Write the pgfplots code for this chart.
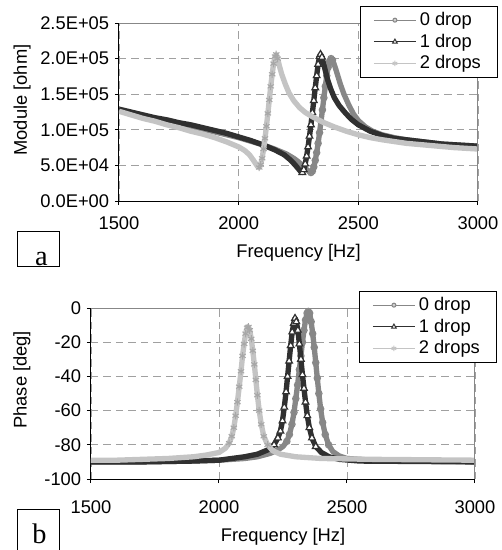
\documentclass[border=0pt]{standalone}
\usepackage{fontspec}
\setmainfont{Liberation Sans}
\newfontfamily\tnr{Liberation Serif}
\usepackage{pgfplots}
\usepackage{pgfplotstable}
\pgfplotsset{compat=1.18}

\definecolor{czero}{HTML}{878787}
\definecolor{cone}{HTML}{303030}
\definecolor{ctwo}{HTML}{C4C4C4}
\definecolor{gridc}{HTML}{A0A0A0}

% module (x 1e5 ohm)
\pgfplotstableread{
f m
1500 1.28
1550 1.24
1600 1.20
1650 1.16
1700 1.12
1750 1.09
1800 1.05
1850 1.01
1900 0.97
1950 0.93
2000 0.89
2050 0.84
2100 0.79
2150 0.73
2200 0.66
2230 0.60
2250 0.55
2270 0.49
2285 0.44
2295 0.41
2302 0.40
2308 0.42
2314 0.48
2320 0.57
2326 0.68
2332 0.81
2338 0.96
2344 1.12
2350 1.28
2356 1.45
2362 1.61
2368 1.76
2374 1.88
2380 1.96
2386 2.00
2392 1.98
2398 1.93
2405 1.86
2415 1.75
2425 1.64
2440 1.50
2460 1.35
2480 1.22
2500 1.13
2530 1.04
2560 0.98
2600 0.93
2650 0.89
2700 0.86
2750 0.84
2800 0.82
2850 0.80
2900 0.79
2950 0.78
3000 0.77
}\modzero
\pgfplotstableread{
f m
1500 1.29
1550 1.25
1600 1.21
1650 1.17
1700 1.14
1750 1.10
1800 1.07
1850 1.03
1900 0.99
1950 0.95
2000 0.90
2050 0.85
2100 0.79
2150 0.72
2190 0.65
2215 0.58
2235 0.51
2250 0.45
2260 0.41
2266 0.40
2272 0.44
2278 0.52
2284 0.63
2290 0.76
2296 0.91
2302 1.07
2308 1.24
2314 1.41
2320 1.59
2326 1.76
2332 1.92
2338 2.03
2342 2.06
2348 2.02
2354 1.94
2362 1.83
2372 1.70
2385 1.57
2400 1.45
2420 1.34
2445 1.24
2470 1.15
2500 1.07
2550 0.98
2600 0.92
2650 0.88
2700 0.86
2750 0.84
2800 0.82
2850 0.80
2900 0.79
2950 0.78
3000 0.77
}\modone
\pgfplotstableread{
f m
1500 1.26
1550 1.21
1600 1.16
1650 1.12
1700 1.07
1750 1.03
1800 0.98
1850 0.94
1900 0.89
1950 0.83
2000 0.76
2025 0.71
2045 0.65
2060 0.58
2072 0.52
2080 0.48
2086 0.47
2092 0.51
2098 0.60
2104 0.73
2110 0.88
2116 1.05
2122 1.23
2128 1.42
2134 1.61
2140 1.78
2146 1.93
2152 2.03
2157 2.06
2163 2.00
2170 1.90
2180 1.78
2195 1.64
2210 1.52
2230 1.41
2255 1.31
2280 1.24
2310 1.18
2350 1.11
2400 1.04
2450 0.98
2500 0.93
2550 0.89
2600 0.86
2700 0.81
2800 0.78
2900 0.75
3000 0.73
}\modtwo

% phase (deg)
\pgfplotstableread{
f p
1500 -90
1700 -90
1900 -89.5
2000 -89
2100 -88
2150 -87
2200 -85
2230 -83
2250 -81
2265 -78
2275 -74
2285 -68
2293 -61
2300 -53
2307 -45
2314 -36
2320 -28
2326 -20
2332 -13
2338 -7
2344 -3
2349 -2
2354 -3
2360 -8
2366 -15
2372 -23
2378 -32
2384 -41
2390 -50
2397 -59
2405 -67
2415 -74
2428 -80
2445 -84
2470 -86.5
2500 -88
2600 -89
2800 -89.5
3000 -90
}\phzero
\pgfplotstableread{
f p
1500 -90
1700 -90
1900 -89.5
2000 -89
2050 -88
2100 -87
2150 -85.5
2190 -83
2215 -80
2230 -76
2240 -72
2248 -66
2255 -58
2262 -49
2268 -40
2274 -31
2280 -22
2286 -14
2292 -9
2297 -6
2302 -8
2308 -13
2314 -21
2320 -30
2326 -39
2332 -47
2338 -55
2345 -63
2353 -70
2363 -76
2378 -81
2400 -84.5
2430 -87
2470 -88.5
2550 -89.5
3000 -90
}\phone
\pgfplotstableread{
f p
1500 -89
1600 -89
1700 -88.5
1800 -88
1900 -87
1950 -86
2000 -84.5
2025 -82
2040 -79
2050 -75
2058 -70
2065 -63
2072 -55
2079 -46
2086 -37
2092 -28
2098 -21
2104 -15
2110 -11.5
2115 -11
2120 -13
2126 -18
2132 -25
2138 -33
2144 -42
2150 -51
2157 -60
2165 -68
2175 -75
2190 -80
2210 -83.5
2240 -85.5
2300 -87
2400 -88
2600 -88.5
3000 -89
}\phtwo

\pgfplotsset{
  common/.style={
    scale only axis,
    clip mode=individual,
    xmin=1500, xmax=3000,
    xtick={1500,2000,2500,3000},
    xticklabels={1500,2000,2500,3000},
    axis x line*=bottom, axis y line*=left,
    axis line style={black, line width=0.6pt},
    tick align=outside, major tick length=2.4pt,
    tick style={black, line width=0.6pt},
    xmajorgrids, ymajorgrids,
    major grid style={gridc, dash pattern=on 4.5pt off 3pt, line width=0.5pt},
    ticklabel style={font=\fontsize{11}{13}\selectfont},
    label style={font=\fontsize{11}{13}\selectfont},
    xlabel={Frequency [Hz]},
    legend style={draw=black, line width=0.5pt, fill=white, anchor=north east,
      font=\fontsize{11}{13}\selectfont, inner xsep=8pt, inner ysep=1.5pt,
      row sep=-0.5pt, cells={anchor=west}},
    legend image code/.code={\draw[mark repeat=2,mark phase=2,#1]
      plot coordinates {(0pt,0pt) (12.6pt,0pt) (25.2pt,0pt)};},
  },
  band/.style={line width=3.2pt, line join=round, forget plot},
  mk0/.style={only marks, forget plot, mark=o, mark size=1.9pt, mark options={czero, fill=white, line width=0.7pt}},
  mk1/.style={only marks, forget plot, mark=triangle*, mark size=2.3pt, mark options={cone, fill=white, line width=0.7pt}},
  mk2/.style={only marks, forget plot, mark=asterisk, mark size=2.2pt, mark options={ctwo!85!black, line width=0.6pt}},
}

\begin{document}
\begin{tikzpicture}
\useasboundingbox (0pt,0pt) rectangle (300.6pt,-330pt);

\begin{axis}[common,
  at={(71.4pt,-120.6pt)}, anchor=south west,
  width=215.4pt, height=106.8pt,
  ymin=0, ymax=2.5,
  ytick={0,0.5,1,1.5,2,2.5},
  yticklabels={0.0E+00,5.0E+04,1.0E+05,1.5E+05,2.0E+05,2.5E+05},
  ylabel={Module [ohm]},
  ylabel style={at={(axis description cs:-0.27,0.567)}, anchor=center},
  xlabel style={at={(axis description cs:0.5,-0.29)}, anchor=center},
  xticklabel style={yshift=-3.5pt},
  legend style={at={(axis description cs:1.0557,1.0955)}},
]
\addlegendimage{czero, line width=0.6pt, mark=*, mark size=1.2pt, mark options={czero, fill=czero!40}}
\addlegendentry{0 drop}
\addlegendimage{cone, line width=0.6pt, mark=triangle*, mark size=1.6pt, mark options={cone, fill=white}}
\addlegendentry{1 drop}
\addlegendimage{ctwo, line width=0.6pt, mark=asterisk, mark size=1.6pt, mark options={ctwo}}
\addlegendentry{2 drops}

\addplot[band, czero] table[x=f, y=m] {\modzero};
\addplot[mk0, restrict x to domain=2300:2395] table[x=f, y=m] {\modzero};
\addplot[band, cone] table[x=f, y=m] {\modone};
\addplot[mk1, restrict x to domain=2262:2350] table[x=f, y=m] {\modone};
\addplot[band, ctwo] table[x=f, y=m] {\modtwo};
\addplot[mk2, restrict x to domain=2085:2165] table[x=f, y=m] {\modtwo};
\draw[czero, line width=0.6pt] (rel axis cs:0,1) -- (rel axis cs:1,1) -- (rel axis cs:1,0);
\end{axis}

\begin{axis}[common,
  at={(54.6pt,-287.4pt)}, anchor=south west,
  width=230.4pt, height=102.6pt,
  ymin=-100, ymax=0,
  ytick={-100,-80,-60,-40,-20,0},
  yticklabels={-100,-80,-60,-40,-20,0},
  ylabel={Phase [deg]},
  ylabel style={at={(axis description cs:-0.18,0.58)}, anchor=center},
  xlabel style={at={(axis description cs:0.5,-0.335)}, anchor=center},
  xticklabel style={yshift=-7pt},
  legend style={at={(axis description cs:1.0573,1.0994)}},
]
\addlegendimage{czero, line width=0.6pt, mark=*, mark size=1.2pt, mark options={czero, fill=czero!40}}
\addlegendentry{0 drop}
\addlegendimage{cone, line width=0.6pt, mark=triangle*, mark size=1.6pt, mark options={cone, fill=white}}
\addlegendentry{1 drop}
\addlegendimage{ctwo, line width=0.6pt, mark=asterisk, mark size=1.6pt, mark options={ctwo}}
\addlegendentry{2 drops}

\addplot[band, czero] table[x=f, y=p] {\phzero};
\addplot[mk0, restrict x to domain=2265:2430] table[x=f, y=p] {\phzero};
\addplot[band, cone] table[x=f, y=p] {\phone};
\addplot[mk1, restrict x to domain=2215:2380] table[x=f, y=p] {\phone};
\addplot[band, ctwo] table[x=f, y=p] {\phtwo};
\addplot[mk2, restrict x to domain=2040:2190] table[x=f, y=p] {\phtwo};
\draw[czero, line width=0.6pt] (rel axis cs:0,1) -- (rel axis cs:1,1) -- (rel axis cs:1,0);
\end{axis}

\draw[line width=0.6pt] (10.2pt,-138.6pt) rectangle (35.4pt,-159.6pt);
\node[anchor=base, inner sep=0pt, font=\tnr\fontsize{17}{17}\selectfont] at (24.9pt,-159.1pt) {a};
\draw[line width=0.6pt] (10.2pt,-336pt) -- (10.2pt,-305.4pt) -- (35.4pt,-305.4pt) -- (35.4pt,-336pt);
\node[anchor=base, inner sep=0pt, font=\tnr\fontsize{17}{17}\selectfont] at (23.7pt,-325.8pt) {b};
\end{tikzpicture}
\end{document}
